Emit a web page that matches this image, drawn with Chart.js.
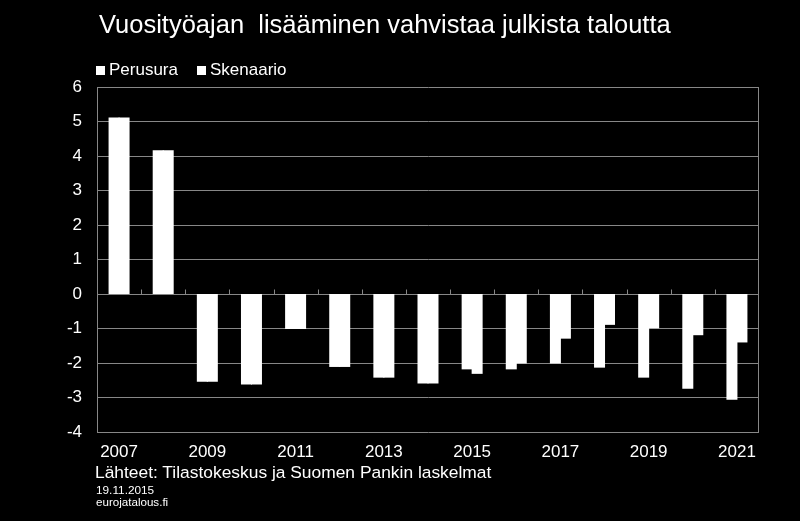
<!DOCTYPE html>
<html>
<head>
<meta charset="utf-8">
<script src="https://cdn.jsdelivr.net/npm/chart.js@4.4.1/dist/chart.umd.min.js"></script>
<style>
  html, body { margin: 0; padding: 0; background: #000; }
  #wrap { position: relative; width: 800px; height: 521px; background: #000; overflow: hidden; font-family: "Liberation Sans", Arial, sans-serif; color: #fff; }
  #c { position: absolute; left: 0; top: 0; }
  .t { position: absolute; white-space: nowrap; color: #fff; }
  #title { left: 99px; top: 11px; font-size: 25.5px; line-height: 26px; }
  #legend { left: 96px; top: 61px; font-size: 17px; line-height: 17px; display: flex; }
  #legend .item { display: flex; align-items: center; margin-right: 19px; }
  #legend .box { width: 9px; height: 9px; background: #fff; margin-right: 4px; margin-top: 1px; }
  #src { left: 95px; top: 463px; font-size: 17.4px; line-height: 18px; }
  #date { left: 96px; top: 484px; font-size: 11.8px; line-height: 12px; }
  #site { left: 96px; top: 496px; font-size: 11.6px; line-height: 12px; }
</style>
</head>
<body>
<div id="wrap">
  <canvas id="c" width="800" height="521"></canvas>
  <div class="t" id="title">Vuosityöajan&nbsp; lisääminen vahvistaa julkista taloutta</div>
  <div class="t" id="legend"></div>
  <div class="t" id="src">Lähteet: Tilastokeskus ja Suomen Pankin laskelmat</div>
  <div class="t" id="date">19.11.2015</div>
  <div class="t" id="site">eurojatalous.fi</div>
</div>
<script>
// ---- data ----
const years = ['2007','2008','2009','2010','2011','2012','2013','2014','2015','2016','2017','2018','2019','2020','2021'];
const perusura  = [5.1, 4.15, -2.53, -2.61, -1.0, -2.1, -2.41, -2.58, -2.17, -2.17, -2.0, -2.12, -2.41, -2.73, -3.05];
const skenaario = [5.1, 4.15, -2.53, -2.61, -1.0, -2.1, -2.41, -2.58, -2.3, -2.0, -1.28, -0.88, -0.98, -1.18, -1.39];
const seriesNames = ['Perusura', 'Skenaario'];
const yTicks = [-4, -3, -2, -1, 0, 1, 2, 3, 4, 5, 6];

const GRID = '#878787';
const FONT = '"Liberation Sans", Arial, sans-serif';

const framePlugin = {
  id: 'frame',
  beforeDatasetsDraw(chart) {
    const ctx = chart.ctx;
    const a = chart.chartArea;
    const xs = chart.scales.x;
    const ys = chart.scales.y;
    ctx.save();
    ctx.strokeStyle = GRID;
    ctx.lineWidth = 1;
    // right border
    ctx.beginPath();
    ctx.moveTo(Math.round(a.right) - 0.5, a.top);
    ctx.lineTo(Math.round(a.right) - 0.5, a.bottom);
    ctx.stroke();
    // tick marks on the zero line at category boundaries
    const y0 = Math.round(ys.getPixelForValue(0)) + 0.5;
    const n = chart.data.labels.length;
    const step = xs.getPixelForValue(1) - xs.getPixelForValue(0);
    for (let i = 1; i < n; i++) {
      const x = Math.round(xs.getPixelForValue(i) - step / 2) + 0.5;
      ctx.beginPath();
      ctx.moveTo(x, y0);
      ctx.lineTo(x, y0 - 5);
      ctx.stroke();
    }
    ctx.restore();
  }
};

const chart = new Chart(document.getElementById('c'), {
  type: 'bar',
  data: {
    labels: years,
    datasets: [
      { label: seriesNames[0], data: perusura, backgroundColor: '#ffffff', borderWidth: 0, inflateAmount: 0.5 },
      { label: seriesNames[1], data: skenaario, backgroundColor: '#ffffff', borderWidth: 0, inflateAmount: 0.5 }
    ]
  },
  options: {
    responsive: false,
    animation: false,
    devicePixelRatio: 1,
    layout: { padding: { top: 87, right: 41, left: 0, bottom: 59 } },
    datasets: { bar: { categoryPercentage: 0.453, barPercentage: 1.0 } },
    plugins: {
      legend: { display: false },
      title: { display: false },
      tooltip: { enabled: false }
    },
    scales: {
      x: {
        grid: { display: false, drawTicks: false },
        border: { display: false },
        ticks: {
          color: '#ffffff',
          font: { family: FONT, size: 17 },
          autoSkip: false,
          maxRotation: 0,
          padding: 10,
          callback: function(v, i) { return i % 2 === 0 ? years[i] : ''; }
        },
        afterFit(s) { s.height = 30; }
      },
      y: {
        min: yTicks[0],
        max: yTicks[yTicks.length - 1],
        afterBuildTicks(s) { s.ticks = yTicks.map(v => ({ value: v })); },
        grid: { color: GRID, lineWidth: 1, drawTicks: false },
        border: { display: true, color: GRID, width: 1 },
        ticks: {
          color: '#ffffff',
          font: { family: FONT, size: 17 },
          padding: 15
        },
        afterFit(s) { s.width = 97; }
      }
    }
  },
  plugins: [framePlugin]
});

// HTML legend built from the dataset labels
const leg = document.getElementById('legend');
chart.data.datasets.forEach(ds => {
  const it = document.createElement('div');
  it.className = 'item';
  const b = document.createElement('div');
  b.className = 'box';
  const s = document.createElement('span');
  s.textContent = ds.label;
  it.appendChild(b); it.appendChild(s);
  leg.appendChild(it);
});
</script>
</body>
</html>
